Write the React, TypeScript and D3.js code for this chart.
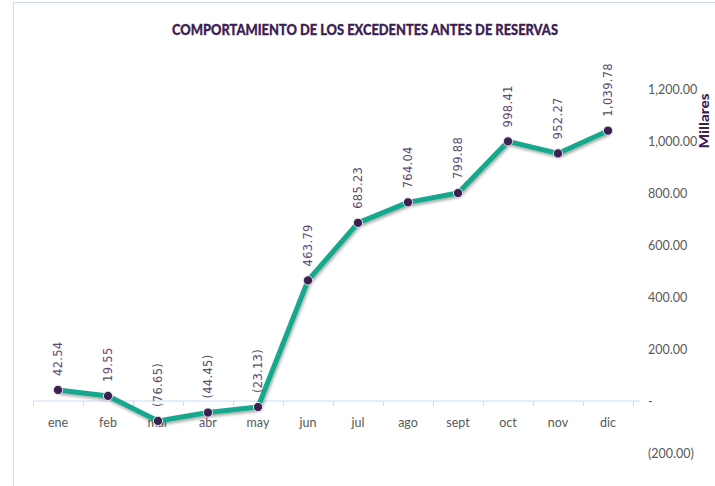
import React from "react";
import * as d3 from "d3";

const categories = ["ene", "feb", "mar", "abr", "may", "jun", "jul", "ago", "sept", "oct", "nov", "dic"];
const values = [42.54, 19.55, -76.65, -44.45, -23.13, 463.79, 685.23, 764.04, 799.88, 998.41, 952.27, 1039.78];
const yTicks = [-200, 0, 200, 400, 600, 800, 1000, 1200];
const title = "COMPORTAMIENTO DE LOS EXCEDENTES ANTES DE RESERVAS";
const axisTitle = "Millares";

const W = 715, H = 486;

const fmtNum = (v: number) => {
  const s = d3.format(",.2f")(Math.abs(v));
  return v < 0 ? `(${s})` : s;
};
const fmtTick = (v: number) => (v === 0 ? "-" : fmtNum(v));

export default function App() {
  const x = d3.scaleBand<string>().domain(categories).range([33, 633]);
  const y = d3.scaleLinear().domain([-200, 1200]).range([453, 89]);
  const line = d3
    .line<number>()
    .x((_, i) => (x(categories[i]) as number) + x.bandwidth() / 2)
    .y((d) => y(d));
  const purple = "#3d2052";
  return (
    <svg width={W} height={H} style={{ position: "absolute", left: 0, top: 0, background: "#fff" }}>
      <defs>
        <filter id="sh" x="-10%" y="-10%" width="120%" height="130%">
          <feDropShadow dx="1" dy="2" stdDeviation="1.5" floodColor="#000" floodOpacity="0.35" />
        </filter>
      </defs>
      <rect x={13.5} y={2.5} width={W} height={H} fill="#fff" stroke="#cddcee" strokeWidth={1} />
      <text
        x={365}
        y={35}
        textAnchor="middle"
        fontFamily="Lato, 'Open Sans', sans-serif"
        fontWeight="900"
        fontSize={15}
        fill={purple}
        stroke={purple}
        strokeWidth={0.3}
        textLength={386}
        lengthAdjust="spacingAndGlyphs"
      >
        {title}
      </text>
      {/* x axis line */}
      <line x1={33} x2={640} y1={y(0)} y2={y(0)} stroke="#cddcee" strokeWidth={1} />
      {categories.map((c, i) => (
        <line key={"t" + i} x1={(x(c) as number) + 0.5} x2={(x(c) as number) + 0.5} y1={y(0)} y2={y(0) + 5} stroke="#cddcee" />
      ))}
      <line x1={633.5} x2={633.5} y1={y(0)} y2={y(0) + 5} stroke="#cddcee" />
      {categories.map((c) => (
        <text
          key={c}
          x={(x(c) as number) + x.bandwidth() / 2}
          y={427}
          textAnchor="middle"
          fontFamily="Lato, sans-serif"
          fontSize={12.5}
          fill="#595959"
        >
          {c}
        </text>
      ))}
      {yTicks.map((t) => (
        <text key={t} x={648} y={y(t) + 4.5} fontFamily="Lato, sans-serif" fontSize={12.5} fill="#595959">
          {fmtTick(t)}
        </text>
      ))}
      <text
        transform={`translate(709,${121}) rotate(-90)`}
        textAnchor="middle"
        fontFamily="Lato, sans-serif"
        fontWeight="900"
        fontSize={13.5}
        fill={purple}
        textLength={55}
        lengthAdjust="spacingAndGlyphs"
      >
        {axisTitle}
      </text>
      <path d={line(values) || ""} fill="none" stroke="#17a88d" strokeWidth={5} strokeLinejoin="round" filter="url(#sh)" />
      {values.map((v, i) => (
        <circle
          key={"p" + i}
          cx={(x(categories[i]) as number) + x.bandwidth() / 2}
          cy={y(v)}
          r={4.6}
          fill={purple}
          stroke="#e8e4ee"
          strokeWidth={1}
        />
      ))}
      {values.map((v, i) => {
        const cx = (x(categories[i]) as number) + x.bandwidth() / 2;
        const cy = y(v) - 14;
        return (
          <text
            key={"l" + i}
            transform={`translate(${cx + 4},${cy}) rotate(-90)`}
            fontFamily="'DejaVu Sans', sans-serif"
            fontSize={11.5}
            letterSpacing={0.3}
            fill="#5c4a70"
          >
            {fmtNum(v)}
          </text>
        );
      })}
    </svg>
  );
}
